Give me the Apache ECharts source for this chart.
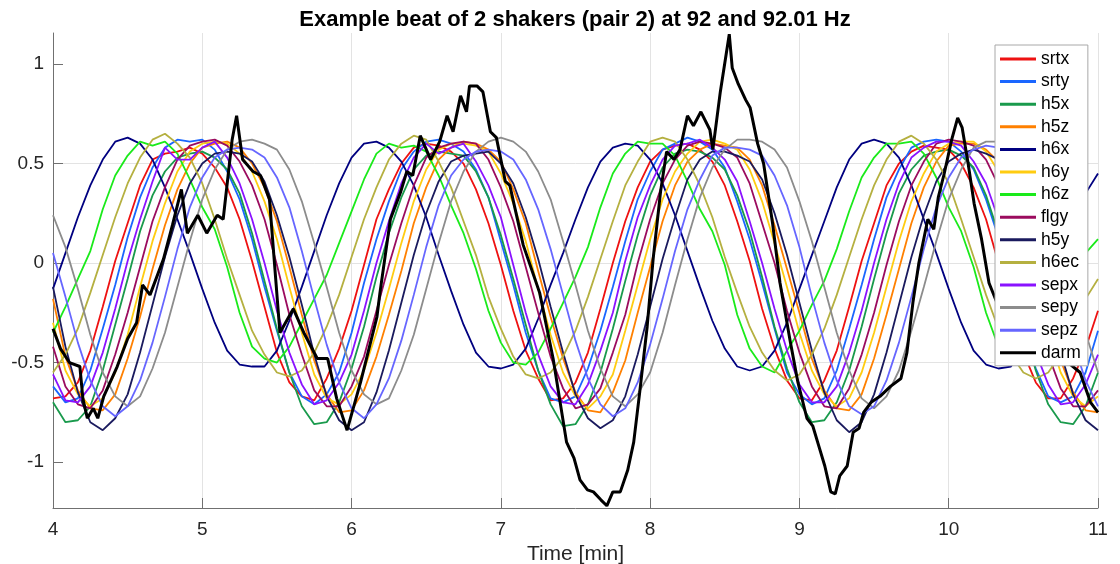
<!DOCTYPE html>
<html>
<head>
<meta charset="utf-8">
<script src="https://cdn.jsdelivr.net/npm/echarts@6/dist/echarts.min.js"></script>
<style>
html, body { margin: 0; padding: 0; background: #ffffff; }
#chart { width: 1120px; height: 564px; }
</style>
</head>
<body>
<div id="chart"></div>
<script>
// Sample times (minutes), 5 s apart
const timeMin = [4.0000,4.0833,4.1667,4.2500,4.3333,4.4167,4.5000,4.5833,4.6667,4.7500,4.8333,4.9167,
  5.0000,5.0833,5.1667,5.2500,5.3333,5.4167,5.5000,5.5833,5.6667,5.7500,5.8333,5.9167,
  6.0000,6.0833,6.1667,6.2500,6.3333,6.4167,6.5000,6.5833,6.6667,6.7500,6.8333,6.9167,
  7.0000,7.0833,7.1667,7.2500,7.3333,7.4167,7.5000,7.5833,7.6667,7.7500,7.8333,7.9167,
  8.0000,8.0833,8.1667,8.2500,8.3333,8.4167,8.5000,8.5833,8.6667,8.7500,8.8333,8.9167,
  9.0000,9.0833,9.1667,9.2500,9.3333,9.4167,9.5000,9.5833,9.6667,9.7500,9.8333,9.9167,
  10.0000,10.0833,10.1667,10.2500,10.3333,10.4167,10.5000,10.5833,10.6667,10.7500,10.8333,10.9167,
  11.0000];

const srtx = [-0.68,-0.67,-0.60,-0.44,-0.22,0.01,0.20,0.39,0.52,0.55,0.56,0.58,0.55,0.48,0.38,0.22,0.01,-0.22,-0.45,-0.60,
  -0.67,-0.69,-0.58,-0.43,-0.24,-0.01,0.22,0.37,0.50,0.58,0.60,0.59,0.56,0.50,0.37,0.20,-0.01,-0.24,-0.44,-0.58,
  -0.69,-0.68,-0.60,-0.45,-0.23,0.00,0.21,0.38,0.51,0.57,0.59,0.60,0.57,0.51,0.39,0.21,0.01,-0.23,-0.43,-0.59,
  -0.68,-0.69,-0.59,-0.44,-0.22,0.01,0.20,0.39,0.50,0.56,0.59,0.58,0.57,0.50,0.38,0.22,0.00,-0.22,-0.45,-0.60,
  -0.68,-0.68,-0.58,-0.43,-0.24];
const srty = [-0.62,-0.70,-0.68,-0.54,-0.33,-0.11,0.13,0.33,0.48,0.58,0.62,0.61,0.62,0.57,0.46,0.32,0.12,-0.12,-0.34,-0.55,
  -0.67,-0.71,-0.66,-0.55,-0.35,-0.10,0.12,0.31,0.47,0.56,0.61,0.62,0.60,0.56,0.47,0.33,0.11,-0.11,-0.35,-0.54,
  -0.68,-0.70,-0.67,-0.53,-0.34,-0.12,0.11,0.32,0.46,0.57,0.60,0.63,0.61,0.57,0.48,0.31,0.12,-0.10,-0.33,-0.55,
  -0.66,-0.71,-0.68,-0.54,-0.33,-0.11,0.12,0.33,0.47,0.58,0.61,0.62,0.61,0.56,0.47,0.32,0.13,-0.11,-0.34,-0.53,
  -0.67,-0.70,-0.67,-0.55,-0.34];
const h5x = [-0.70,-0.80,-0.79,-0.72,-0.54,-0.31,-0.08,0.16,0.34,0.46,0.53,0.55,0.56,0.53,0.47,0.35,0.15,-0.09,-0.33,-0.55,
  -0.72,-0.81,-0.80,-0.70,-0.53,-0.32,-0.07,0.15,0.33,0.47,0.54,0.56,0.55,0.54,0.46,0.33,0.14,-0.08,-0.31,-0.54,
  -0.71,-0.82,-0.81,-0.71,-0.55,-0.33,-0.09,0.14,0.34,0.48,0.55,0.57,0.56,0.53,0.47,0.34,0.16,-0.07,-0.32,-0.53,
  -0.70,-0.80,-0.79,-0.70,-0.54,-0.32,-0.08,0.15,0.35,0.47,0.54,0.56,0.57,0.54,0.48,0.34,0.15,-0.08,-0.32,-0.54,
  -0.71,-0.80,-0.81,-0.72,-0.55];
const h5z = [-0.18,-0.47,-0.64,-0.73,-0.74,-0.66,-0.48,-0.27,-0.03,0.19,0.37,0.50,0.58,0.60,0.61,0.58,0.50,0.38,0.21,-0.02,
  -0.26,-0.49,-0.66,-0.75,-0.74,-0.64,-0.47,-0.26,-0.04,0.20,0.38,0.52,0.58,0.61,0.60,0.57,0.51,0.37,0.20,-0.04,
  -0.27,-0.48,-0.65,-0.74,-0.75,-0.65,-0.49,-0.25,-0.02,0.21,0.39,0.51,0.57,0.60,0.59,0.58,0.52,0.39,0.19,-0.03,
  -0.25,-0.48,-0.64,-0.73,-0.74,-0.66,-0.48,-0.26,-0.03,0.20,0.38,0.51,0.59,0.60,0.60,0.57,0.51,0.38,0.20,-0.03,
  -0.26,-0.49,-0.65,-0.74,-0.75];
const h6x = [-0.13,0.05,0.23,0.39,0.52,0.61,0.63,0.60,0.52,0.38,0.22,0.05,-0.13,-0.30,-0.44,-0.51,-0.52,-0.52,-0.44,-0.29,
  -0.12,0.06,0.24,0.40,0.53,0.60,0.61,0.58,0.51,0.39,0.23,0.04,-0.14,-0.31,-0.45,-0.52,-0.53,-0.51,-0.43,-0.28,
  -0.11,0.05,0.22,0.38,0.51,0.58,0.60,0.59,0.52,0.40,0.24,0.06,-0.12,-0.29,-0.43,-0.52,-0.54,-0.52,-0.44,-0.30,
  -0.13,0.04,0.21,0.38,0.52,0.60,0.62,0.60,0.53,0.39,0.22,0.05,-0.13,-0.30,-0.44,-0.51,-0.53,-0.52,-0.43,-0.29,
  -0.13,0.04,0.21,0.35,0.45];
const h6y = [-0.30,-0.54,-0.66,-0.72,-0.68,-0.55,-0.36,-0.12,0.11,0.30,0.46,0.56,0.60,0.61,0.60,0.55,0.46,0.31,0.12,-0.12,
  -0.35,-0.56,-0.68,-0.71,-0.66,-0.54,-0.35,-0.13,0.10,0.31,0.47,0.57,0.60,0.60,0.59,0.56,0.45,0.30,0.11,-0.13,
  -0.36,-0.55,-0.67,-0.73,-0.67,-0.56,-0.34,-0.11,0.12,0.32,0.46,0.55,0.61,0.62,0.60,0.57,0.47,0.31,0.10,-0.12,
  -0.35,-0.54,-0.66,-0.72,-0.68,-0.55,-0.35,-0.12,0.11,0.31,0.45,0.56,0.60,0.61,0.61,0.56,0.46,0.32,0.11,-0.11,
  -0.35,-0.55,-0.67,-0.72,-0.67];
const h6z = [-0.35,-0.22,-0.08,0.06,0.27,0.44,0.54,0.61,0.59,0.61,0.55,0.42,0.28,0.17,-0.02,-0.25,-0.42,-0.48,-0.50,-0.42,
  -0.30,-0.18,-0.06,0.10,0.26,0.42,0.55,0.60,0.58,0.59,0.56,0.44,0.29,0.15,-0.03,-0.24,-0.40,-0.50,-0.51,-0.45,
  -0.33,-0.20,-0.07,0.08,0.28,0.45,0.55,0.61,0.60,0.60,0.54,0.41,0.27,0.16,-0.01,-0.26,-0.43,-0.52,-0.55,-0.44,
  -0.34,-0.21,-0.09,0.07,0.26,0.43,0.53,0.60,0.60,0.61,0.55,0.43,0.28,0.16,-0.02,-0.25,-0.42,-0.49,-0.51,-0.43,
  -0.32,-0.20,-0.06,0.05,0.12];
const flgy = [-0.42,-0.62,-0.71,-0.73,-0.64,-0.46,-0.25,-0.02,0.21,0.38,0.52,0.59,0.61,0.62,0.59,0.51,0.39,0.22,-0.01,-0.26,
  -0.46,-0.64,-0.72,-0.72,-0.62,-0.47,-0.24,-0.01,0.20,0.39,0.53,0.58,0.60,0.61,0.60,0.52,0.38,0.21,-0.02,-0.25,
  -0.47,-0.63,-0.73,-0.71,-0.63,-0.45,-0.26,0.00,0.22,0.40,0.52,0.59,0.61,0.60,0.58,0.53,0.40,0.20,0.00,-0.24,
  -0.45,-0.62,-0.72,-0.73,-0.63,-0.46,-0.25,-0.01,0.21,0.39,0.51,0.60,0.62,0.61,0.59,0.52,0.39,0.21,-0.01,-0.25,
  -0.46,-0.63,-0.72,-0.72,-0.64];
const h5y = [-0.12,-0.42,-0.65,-0.80,-0.84,-0.78,-0.66,-0.45,-0.21,0.03,0.24,0.40,0.50,0.55,0.56,0.55,0.51,0.41,0.24,0.03,
  -0.21,-0.46,-0.67,-0.79,-0.84,-0.80,-0.65,-0.44,-0.20,0.04,0.25,0.41,0.51,0.54,0.55,0.56,0.50,0.40,0.23,0.02,
  -0.22,-0.45,-0.66,-0.78,-0.83,-0.79,-0.67,-0.46,-0.22,0.02,0.23,0.42,0.52,0.56,0.56,0.54,0.51,0.42,0.25,0.04,
  -0.20,-0.44,-0.65,-0.79,-0.85,-0.80,-0.66,-0.45,-0.21,0.03,0.24,0.41,0.51,0.55,0.57,0.55,0.52,0.41,0.24,0.03,
  -0.21,-0.45,-0.66,-0.79,-0.84];
const h6ec = [-0.55,-0.46,-0.33,-0.15,0.04,0.23,0.40,0.53,0.62,0.65,0.60,0.53,0.40,0.22,0.02,-0.16,-0.34,-0.46,-0.55,-0.57,
  -0.54,-0.45,-0.32,-0.16,0.03,0.22,0.38,0.52,0.60,0.64,0.62,0.51,0.38,0.21,0.04,-0.17,-0.33,-0.47,-0.56,-0.58,
  -0.55,-0.47,-0.34,-0.17,0.02,0.21,0.39,0.51,0.61,0.63,0.61,0.52,0.39,0.23,0.03,-0.15,-0.32,-0.45,-0.54,-0.59,
  -0.56,-0.46,-0.33,-0.16,0.03,0.22,0.39,0.52,0.61,0.64,0.60,0.52,0.40,0.22,0.03,-0.16,-0.33,-0.46,-0.55,-0.58,
  -0.55,-0.46,-0.33,-0.18,-0.08];
const sepx = [-0.56,-0.69,-0.70,-0.62,-0.45,-0.23,0.01,0.22,0.41,0.58,0.52,0.52,0.58,0.61,0.53,0.40,0.22,0.00,-0.24,-0.45,
  -0.61,-0.71,-0.69,-0.60,-0.46,-0.24,0.00,0.21,0.40,0.53,0.60,0.55,0.58,0.60,0.51,0.39,0.23,-0.01,-0.25,-0.46,
  -0.62,-0.70,-0.71,-0.61,-0.44,-0.25,0.01,0.23,0.39,0.52,0.59,0.60,0.62,0.58,0.52,0.41,0.21,0.00,-0.23,-0.44,
  -0.61,-0.70,-0.70,-0.62,-0.45,-0.24,0.00,0.22,0.40,0.53,0.58,0.61,0.61,0.59,0.51,0.40,0.22,0.01,-0.24,-0.45,
  -0.61,-0.71,-0.70,-0.61,-0.46];
const sepy = [0.24,0.08,-0.13,-0.36,-0.55,-0.67,-0.72,-0.67,-0.53,-0.35,-0.12,0.11,0.32,0.47,0.57,0.61,0.62,0.60,0.57,0.47,
  0.31,0.10,-0.12,-0.35,-0.54,-0.66,-0.71,-0.68,-0.54,-0.36,-0.13,0.10,0.31,0.46,0.56,0.61,0.63,0.61,0.56,0.46,
  0.32,0.11,-0.11,-0.34,-0.53,-0.67,-0.72,-0.66,-0.55,-0.35,-0.11,0.12,0.33,0.48,0.57,0.62,0.62,0.61,0.57,0.48,
  0.31,0.11,-0.12,-0.35,-0.54,-0.68,-0.73,-0.67,-0.54,-0.34,-0.12,0.11,0.32,0.47,0.58,0.61,0.61,0.60,0.56,0.47,
  0.32,0.10,-0.12,-0.35,-0.55];
const sepz = [0.05,-0.17,-0.40,-0.59,-0.72,-0.77,-0.72,-0.59,-0.40,-0.17,0.07,0.28,0.43,0.53,0.57,0.58,0.57,0.53,0.43,0.28,
  0.06,-0.18,-0.41,-0.60,-0.73,-0.78,-0.71,-0.58,-0.39,-0.16,0.08,0.29,0.44,0.52,0.56,0.57,0.56,0.52,0.42,0.27,
  0.07,-0.16,-0.39,-0.58,-0.71,-0.77,-0.73,-0.60,-0.41,-0.18,0.06,0.27,0.42,0.54,0.58,0.58,0.57,0.54,0.44,0.29,
  0.08,-0.17,-0.40,-0.59,-0.72,-0.76,-0.72,-0.59,-0.40,-0.17,0.07,0.28,0.43,0.53,0.57,0.59,0.58,0.53,0.43,0.28,
  0.07,-0.17,-0.40,-0.59,-0.72];

// DARM trace has its own (irregular) sample times
const darmTime = [4.00,4.05,4.11,4.18,4.20,4.23,4.27,4.30,4.34,4.43,4.50,4.56,4.60,4.65,4.74,4.80,4.86,4.90,4.97,5.03,
  5.10,5.14,5.20,5.23,5.27,5.34,5.39,5.45,5.52,5.61,5.68,5.77,5.84,5.90,5.97,6.06,6.17,6.19,6.26,6.33,
  6.37,6.41,6.46,6.53,6.59,6.64,6.68,6.73,6.77,6.79,6.84,6.88,6.93,6.97,7.03,7.06,7.15,7.26,7.35,7.44,
  7.49,7.53,7.58,7.62,7.67,7.71,7.75,7.80,7.85,7.89,7.93,7.98,8.02,8.07,8.11,8.16,8.20,8.25,8.29,8.34,
  8.40,8.42,8.47,8.53,8.55,8.59,8.64,8.67,8.72,8.76,8.82,8.87,8.94,8.99,9.05,9.09,9.13,9.17,9.21,9.24,
  9.27,9.32,9.36,9.40,9.43,9.48,9.54,9.61,9.68,9.72,9.76,9.80,9.86,9.90,9.93,9.97,10.02,10.06,10.09,10.13,
  10.17,10.22,10.27,10.35,10.45,10.55,10.65,10.72,10.80,10.88,10.95,11.00];
const darm = [-0.33,-0.43,-0.50,-0.52,-0.68,-0.78,-0.73,-0.78,-0.67,-0.52,-0.38,-0.30,-0.11,-0.16,0.02,0.19,0.37,0.15,0.24,0.15,
  0.24,0.22,0.62,0.74,0.52,0.46,0.44,0.32,-0.35,-0.23,-0.35,-0.48,-0.48,-0.68,-0.84,-0.60,-0.27,-0.15,0.22,0.36,
  0.46,0.44,0.64,0.52,0.61,0.74,0.66,0.84,0.76,0.89,0.89,0.86,0.66,0.63,0.41,0.39,0.09,-0.15,-0.48,-0.90,
  -0.98,-1.09,-1.14,-1.15,-1.19,-1.22,-1.15,-1.15,-1.04,-0.90,-0.65,-0.32,0.02,0.36,0.56,0.52,0.57,0.74,0.69,0.76,
  0.67,0.57,0.86,1.15,0.98,0.90,0.82,0.78,0.60,0.50,0.20,-0.10,-0.40,-0.60,-0.78,-0.82,-0.92,-1.02,-1.15,-1.16,
  -1.07,-1.02,-0.85,-0.83,-0.75,-0.70,-0.67,-0.62,-0.58,-0.45,-0.20,0.00,0.22,0.17,0.33,0.45,0.62,0.73,0.68,0.50,
  0.30,0.12,-0.10,-0.25,-0.40,-0.48,-0.42,-0.45,-0.50,-0.55,-0.70,-0.75];

const channelNames = ['srtx','srty','h5x','h5z','h6x','h6y','h6z','flgy','h5y','h6ec','sepx','sepy','sepz'];
const channelValues = [srtx, srty, h5x, h5z, h6x, h6y, h6z, flgy, h5y, h6ec, sepx, sepy, sepz];
const channelColors = ['#ee1111','#1a66ff','#199a4c','#ff8000','#000080','#ffcc11','#1aea1a',
  '#9b0b5e','#1a1a5e','#b5b040','#8a12ff','#8c8c8c','#6666ff'];
const xTicks = [4, 5, 6, 7, 8, 9, 10, 11];
const yTicks = [-1, -0.5, 0, 0.5, 1];
const titleText = 'Example beat of 2 shakers (pair 2) at 92 and 92.01 Hz';
const xAxisTitle = 'Time [min]';

const FONT = '"Liberation Sans", Arial, Helvetica, sans-serif';
const chart = echarts.init(document.getElementById('chart'), null, { renderer: 'canvas' });

const series = channelNames.map((name, i) => ({
  name: name,
  type: 'line',
  symbol: 'none',
  showSymbol: false,
  data: timeMin.map((t, k) => [t, channelValues[i][k]]),
  lineStyle: { width: 1.8, color: channelColors[i] },
  itemStyle: { color: channelColors[i] },
  z: 2
}));
series.push({
  name: 'darm',
  type: 'line',
  symbol: 'none',
  showSymbol: false,
  data: darmTime.map((t, k) => [t, darm[k]]),
  lineStyle: { width: 3, color: '#000000' },
  itemStyle: { color: '#000000' },
  z: 3
});

const isTick = (v, list) => list.some(t => Math.abs(t - v) < 1e-6);

chart.setOption({
  animation: false,
  backgroundColor: '#ffffff',
  grid: { left: 53, right: 22, top: 33, bottom: 56, containLabel: false, outerBoundsMode: 'none' },
  xAxis: {
    type: 'value',
    min: 4, max: 11, interval: 1,
    name: xAxisTitle,
    nameLocation: 'middle',
    nameGap: 33,
    nameTextStyle: { fontFamily: FONT, fontSize: 21, color: '#262626' },
    axisLine: { show: true, onZero: false, lineStyle: { color: '#707070', width: 1 } },
    axisTick: { show: true, inside: true, length: 10, lineStyle: { color: '#707070' } },
    axisLabel: { fontFamily: FONT, fontSize: 19, color: '#262626', margin: 12,
      formatter: v => isTick(v, xTicks) ? String(v) : '' },
    splitLine: { show: true, lineStyle: { color: '#e3e3e3', width: 1 } }
  },
  yAxis: {
    type: 'value',
    min: -1.231, max: 1.156,
    axisLine: { show: true, onZero: false, lineStyle: { color: '#707070', width: 1 } },
    axisTick: { show: true, inside: true, length: 10, lineStyle: { color: '#707070' }, customValues: yTicks },
    axisLabel: { fontFamily: FONT, fontSize: 19, color: '#262626', margin: 9, customValues: yTicks,
      formatter: v => isTick(v, yTicks) ? String(v) : '' },
    splitLine: { show: true, showMinLine: false, showMaxLine: false, lineStyle: { color: '#e3e3e3', width: 1 } }
  },
  legend: {
    orient: 'vertical',
    left: 995, top: 45,
    icon: 'rect',
    itemWidth: 36, itemHeight: 3, itemGap: 4.6,
    padding: [5, 7, 4, 5],
    backgroundColor: '#ffffff',
    borderColor: '#a8a8a8', borderWidth: 1,
    textStyle: { fontFamily: FONT, fontSize: 17.5, color: '#000000' },
    data: channelNames.concat(['darm'])
  },
  graphic: [{
    type: 'text',
    x: 575, y: 20,
    style: { text: titleText, font: 'bold 22px ' + FONT, fill: '#000000',
      textAlign: 'center', textVerticalAlign: 'middle' }
  }],
  series: series
});
</script>
</body>
</html>
